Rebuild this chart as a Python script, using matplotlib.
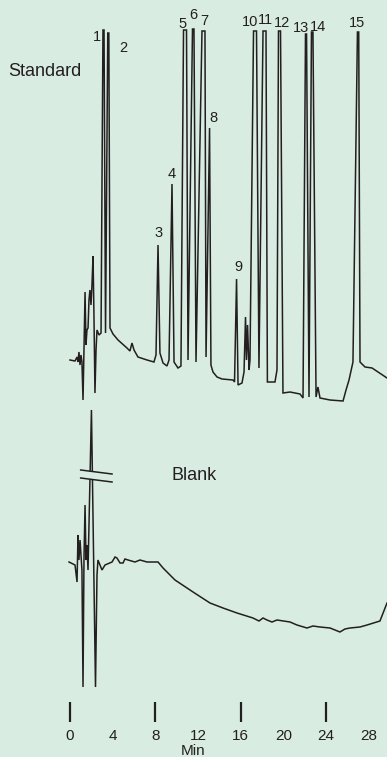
import matplotlib.pyplot as plt
from matplotlib.patches import Polygon

# Standard mix: retention time (min) and detector response (arbitrary units).
# Off-scale peaks carry two readings across their clipped tops.
standard_time = [
    0.00, 0.47, 0.66, 0.75, 0.84, 0.94, 1.03, 1.12, 1.22, 1.31, 1.41, 1.50,
    1.59, 1.69, 1.78, 1.87, 1.97, 2.06, 2.16, 2.25, 2.34, 2.44, 2.53, 2.72,
    2.91, 3.09, 3.19, 3.33, 3.54, 3.64, 3.75, 4.03, 4.50, 5.34, 5.62, 5.81,
    6.00, 6.37, 7.22, 7.87, 8.06, 8.25, 8.43, 8.72, 9.09, 9.28, 9.56, 9.75,
    10.12, 10.40, 10.64, 10.92, 11.06, 11.48, 11.62, 11.81, 12.37, 12.65,
    12.75, 13.08, 13.21, 13.40, 13.78, 14.25, 15.28, 15.42, 15.61, 15.75,
    16.12, 16.31, 16.45, 16.54, 16.64, 16.78, 16.87, 17.20, 17.48, 17.71,
    18.09, 18.37, 18.50, 19.21, 19.40, 19.54, 19.73, 19.96, 20.62, 21.56,
    21.84, 22.07, 22.17, 22.40, 22.63, 22.77, 23.06, 23.24, 23.43, 24.37,
    25.59, 25.87, 26.15, 26.52, 26.94, 27.06, 27.18, 27.65, 28.31, 29.71,
]
standard_response = [
    0, -1, 3, -2, 8, -5, 5, -2, -40, 10, 68, 15,
    30, 32, 60, 70, 55, 75, 104, 42, -33, 10, 30, 25,
    27, 330, 330, 27, 327, 327, 32, 26, 20, 12, 9, 17,
    10, 3, 0, -2, 5, 115, 7, -3, -6, 0, 176, -2,
    -8, -6, 330, 330, 0, 331, 331, -2, 329, 329,
    3, 232, -5, -12, -17, -19, -20, -22, 81, -25,
    -23, -12, 43, 0, 35, -10, 0, 329, 329, -8,
    329, 329, -22, -22, -10, 329, 329, -33, -32, -34,
    -38, 326, 326, -37, 328, 328, -37, -27, -38, -40,
    -41, -30, -20, -2, 328, 328, -2, -7, -8, -18,
]

# Blank injection
blank_time = [
    -0.09, 0.47, 0.66, 0.75, 0.84, 0.94, 1.03, 1.12, 1.22, 1.31, 1.41, 1.50,
    1.59, 1.69, 2.01, 2.39, 2.53, 2.62, 3.00, 3.28, 3.94, 4.22, 4.40, 4.69,
    4.97, 5.15, 5.44, 6.09, 6.56, 7.22, 8.25, 8.72, 9.84, 11.53, 13.12,
    14.34, 15.65, 17.15, 17.71, 18.09, 18.46, 18.93, 19.40, 20.62, 21.27,
    22.21, 22.77, 23.43, 24.37, 25.30, 25.77, 26.24, 27.18, 27.84, 29.05,
    29.71,
]
blank_response = [
    0, -3, -20, 27, 2, 22, 7, -8, -125, 2, 57, 2,
    17, -8, 152, -125, -13, 2, -8, -3, 0, 5, 4, -1,
    -1, 3, 2, 0, 2, 0, 0, -6, -18, -30, -41,
    -46, -51, -56, -59, -56, -58, -60, -58, -60, -63,
    -66, -64, -65, -66, -70, -67, -66, -65, -63, -59,
    -41,
]

# Peak numbering and where each number sits (standard trace units)
peak_numbers = [str(n) for n in range(1, 16)]
label_time = [2.53, 4.97, 8.34, 9.56, 10.59, 11.53, 12.56, 13.40,
              15.75, 16.87, 18.28, 19.87, 21.65, 23.24, 26.90]
label_response = [323, 312, 127, 186, 336, 345, 339, 242,
                  93, 338, 340, 337, 332, 333, 337]

tick_values = [0, 4, 8, 12, 16, 20, 24, 28]
marked_ticks = [0, 8, 16, 24]

BG = "#d9ece2"
INK = "#231f20"
STANDARD_OFFSET = 362
BLANK_OFFSET = 160


def draw_break(ax, t0, t1, y_top, y_bottom, slope):
    """Axis-break marks across the clipped solvent peak of the blank."""
    gap = Polygon(
        [(t0, y_top), (t1, y_top - slope), (t1, y_bottom - slope), (t0, y_bottom)],
        closed=True, facecolor=BG, edgecolor="none", zorder=3,
    )
    ax.add_patch(gap)
    for y in (y_top, y_bottom):
        ax.plot([t0, t1], [y, y - slope], color=INK, lw=1.1, zorder=4)


def main():
    plt.rcParams["font.family"] = ["Liberation Sans", "DejaVu Sans"]

    fig = plt.figure(figsize=(3.87, 7.57), dpi=100, facecolor=BG)
    ax = fig.add_axes([0, 35 / 757, 1, 722 / 757])
    ax.set_facecolor(BG)

    std_y = [r + STANDARD_OFFSET for r in standard_response]
    blank_y = [r + BLANK_OFFSET for r in blank_response]
    ax.plot(standard_time, std_y, color=INK, lw=1.1, solid_joinstyle="miter")
    ax.plot(blank_time, blank_y, color=INK, lw=1.1, solid_joinstyle="miter")

    for num, t, r in zip(peak_numbers, label_time, label_response):
        ax.text(t, r + STANDARD_OFFSET, num, ha="center", va="center",
                fontsize=10.5, color=INK)

    ax.text(-5.81, 288 + STANDARD_OFFSET, "Standard", ha="left", va="center",
            fontsize=13, color=INK)
    ax.text(9.47, 86 + BLANK_OFFSET, "Blank", ha="left", va="center",
            fontsize=13, color=INK)

    draw_break(ax, 1.0, 3.94, 92 + BLANK_OFFSET, 84 + BLANK_OFFSET, 4)

    ax.set_xlim(-6.56, 29.71)
    ax.set_ylim(0, 722)
    for side in ax.spines.values():
        side.set_visible(False)
    ax.set_yticks([])

    ax.set_xticks(marked_ticks)
    ax.set_xticks([v for v in tick_values if v not in marked_ticks], minor=True)
    ax.set_xticklabels([str(v) for v in marked_ticks])
    ax.set_xticklabels([str(v) for v in tick_values if v not in marked_ticks], minor=True)
    ax.tick_params(axis="x", which="major", direction="in", length=14.4, width=1.6,
                   color=INK, labelsize=11, labelcolor=INK, pad=5)
    ax.tick_params(axis="x", which="minor", length=0, labelsize=11,
                   labelcolor=INK, pad=5)
    ax.set_xlabel("Min", fontsize=11, color=INK, labelpad=1)

    fig.savefig("out.png", dpi=100, facecolor=BG)


if __name__ == "__main__":
    main()
